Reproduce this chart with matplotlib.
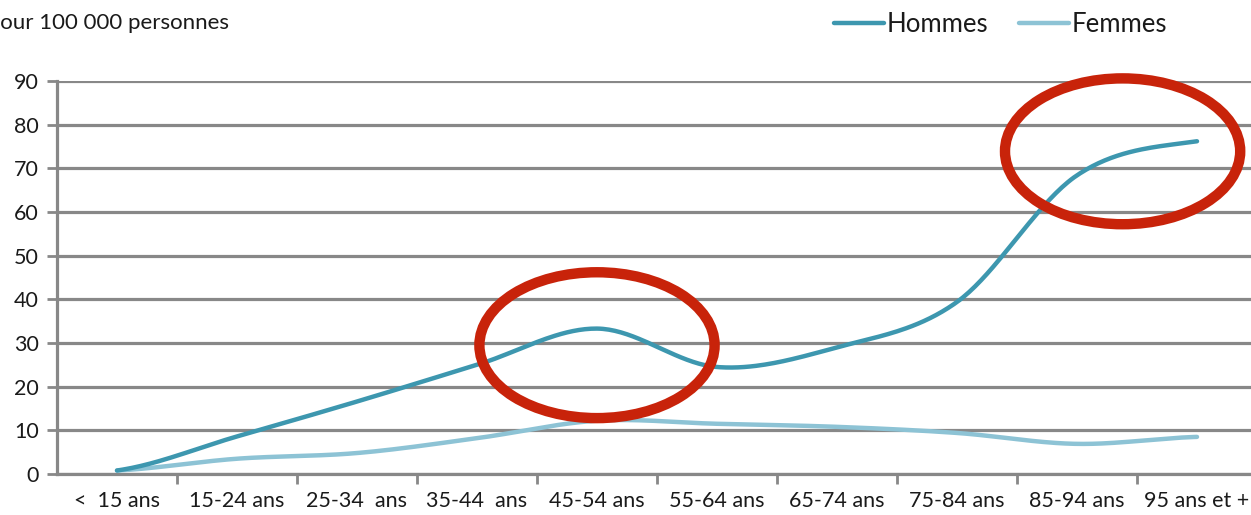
import matplotlib
matplotlib.use("Agg")

import matplotlib.pyplot as plt
import numpy as np
from matplotlib.patches import Ellipse
from matplotlib.ticker import FixedLocator, MultipleLocator

plt.rcParams["font.family"] = ["Lato", "DejaVu Sans"]

age_groups = ["<  15 ans", "15-24 ans", "25-34  ans", "35-44  ans", "45-54 ans",
              "55-64 ans", "65-74 ans", "75-84 ans", "85-94 ans", "95 ans et +"]
hommes = [0.8, 8.6, 16.6, 25.0, 33.3, 24.5, 29.0, 39.4, 68.4, 76.2]
femmes = [0.8, 3.5, 4.8, 8.2, 12.2, 11.5, 10.8, 9.4, 6.9, 8.5]

HOMMES_COLOR = "#3d97af"
FEMMES_COLOR = "#8dc3d5"
GRID_COLOR = "#888888"
RING_COLOR = "#c8230a"
TEXT_COLOR = "#1a1a1a"


def smooth(y, n=40):
    """Catmull-Rom curve through the points, like spreadsheet 'smoothed lines'."""
    y = np.asarray(y, dtype=float)
    pad = np.concatenate([[y[0]], y, [y[-1]]])
    xs, ys = [], []
    for i in range(len(y) - 1):
        p0, p1, p2, p3 = pad[i], pad[i + 1], pad[i + 2], pad[i + 3]
        m1 = (p2 - p0) / 2
        m2 = (p3 - p1) / 2
        t = np.linspace(0, 1, n, endpoint=(i == len(y) - 2))
        h00 = 2 * t**3 - 3 * t**2 + 1
        h10 = t**3 - 2 * t**2 + t
        h01 = -2 * t**3 + 3 * t**2
        h11 = t**3 - t**2
        xs.append(i + t)
        ys.append(h00 * p1 + h10 * m1 + h01 * p2 + h11 * m2)
    return np.concatenate(xs), np.concatenate(ys)


fig = plt.figure(figsize=(12.51, 5.15), dpi=100)
ax = fig.add_axes([57 / 1251, 41 / 515, 1200 / 1251, 393 / 515])

x = np.arange(len(age_groups))
xh, yh = smooth(hommes)
xf, yf = smooth(femmes)
ax.plot(xf, yf, color=FEMMES_COLOR, lw=3.2, solid_capstyle="round", label="Femmes", zorder=3)
ax.plot(xh, yh, color=HOMMES_COLOR, lw=3.2, solid_capstyle="round", label="Hommes", zorder=4)

ax.set_xlim(-0.5, len(age_groups) - 0.5)
ax.set_ylim(0, 90)
ax.yaxis.set_major_locator(MultipleLocator(10))
ax.set_xticks(x)
ax.set_xticklabels(age_groups)
ax.xaxis.set_minor_locator(FixedLocator(np.arange(0.5, len(age_groups) - 0.5, 1)))

ax.grid(axis="y", color=GRID_COLOR, lw=2.3, zorder=1)
ax.set_axisbelow(True)
for side in ["top", "right"]:
    ax.spines[side].set_visible(False)
for side in ["left", "bottom"]:
    ax.spines[side].set_color(GRID_COLOR)
    ax.spines[side].set_linewidth(2.3)

ax.tick_params(axis="y", length=7, width=2, color=GRID_COLOR, labelsize=15.5,
               labelcolor=TEXT_COLOR, pad=6)
ax.tick_params(axis="x", which="major", length=0, labelsize=15.5,
               labelcolor=TEXT_COLOR, pad=12)
ax.tick_params(axis="x", which="minor", length=7, width=2, color=GRID_COLOR)

# rings highlighting the two peaks
for cx, cy in [(4.0, 29.5), (8.38, 73.9)]:
    ax.add_patch(Ellipse((cx, cy), 1.96, 33.4, fill=False, ec=RING_COLOR,
                         lw=7.5, zorder=5, clip_on=False))

fig.text(-0.01, 0.955, "Pour 100 000 personnes", fontsize=16, color=TEXT_COLOR,
         va="center", ha="left")

handles, labels = ax.get_legend_handles_labels()
fig.legend(handles[::-1], labels[::-1], ncol=2, frameon=False, fontsize=18.5,
           labelcolor=TEXT_COLOR, loc="center left", bbox_to_anchor=(834 / 1251, 0.952),
           handlelength=1.95, handletextpad=0.1, columnspacing=1.2,
           borderaxespad=0, borderpad=0)

fig.savefig("out.png", dpi=100)
